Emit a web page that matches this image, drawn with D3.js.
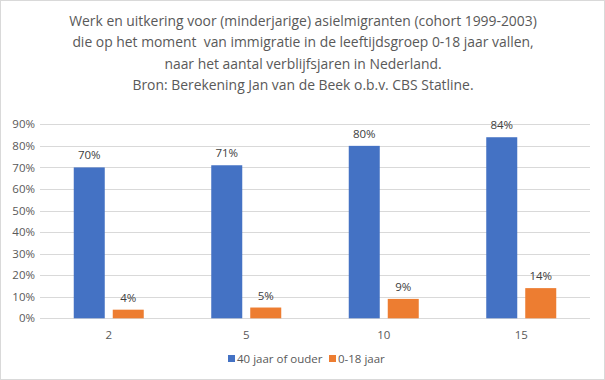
<!DOCTYPE html>
<html><head><meta charset="utf-8">
<script src="https://cdn.jsdelivr.net/npm/d3@7"></script>
<style>body{margin:0;background:#fff}svg{display:block}text{font-family:"Open Sans","Noto Sans",sans-serif}</style>
</head><body><svg id="c" width="605" height="380"></svg>
<script>
const categories = ["2","5","10","15"];
const seriesNames = ["40 jaar of ouder","0-18 jaar"];
const seriesOld = [0.70,0.71,0.80,0.84];
const seriesYoung = [0.04,0.05,0.09,0.14];
const yTicks = [0,0.1,0.2,0.3,0.4,0.5,0.6,0.7,0.8,0.9];
const titleLines = ["Werk en uitkering voor (minderjarige) asielmigranten (cohort 1999-2003)",
"die op het moment  van immigratie in de leeftijdsgroep 0-18 jaar vallen,",
"naar het aantal verblijfsjaren in Nederland.",
"Bron: Berekening Jan van de Beek o.b.v. CBS Statline."];
const colors = ["#4472C4","#ED7D31"];

const svg = d3.select("#c");
svg.append("rect").attr("x",0.5).attr("y",0.5).attr("width",604).attr("height",379)
  .attr("fill","#fff").attr("stroke","#d9d9d9");

const t = svg.append("text").attr("text-anchor","middle").attr("fill","#595959").attr("font-size",13.9)
  .style("white-space","pre");
titleLines.forEach((l,i)=>t.append("tspan").attr("x",303).attr("y",26+i*21.3).text(l));

const x0 = d3.scaleBand().domain(categories).range([40,590]);
const x1 = d3.scaleBand().domain(seriesNames).range([x0.bandwidth()/2-35, x0.bandwidth()/2+35]).paddingInner(0.205);
const y = d3.scaleLinear().domain([0,0.9]).range([318.3,124.3]);

svg.append("g").selectAll("line").data(yTicks).join("line")
  .attr("x1",40).attr("x2",590).attr("y1",d=>Math.round(y(d))+0.5).attr("y2",d=>Math.round(y(d))+0.5)
  .attr("stroke",(d)=>"#d9d9d9").attr("stroke-width",1);

const yAxis = svg.append("g").attr("transform","translate(35,0)")
  .call(d3.axisLeft(y).tickValues(yTicks).tickFormat(d3.format(".0%")).tickSize(0).tickPadding(0));
yAxis.select(".domain").remove();
yAxis.selectAll("text").attr("fill","#595959").attr("font-size",11.5).attr("font-family","'Open Sans',sans-serif");

const xAxis = svg.append("g").attr("transform","translate(0,318)")
  .call(d3.axisBottom(x0).tickSize(0).tickPadding(13));
xAxis.select(".domain").remove();
xAxis.selectAll("text").attr("fill","#595959").attr("font-size",11.5).attr("font-family","'Open Sans',sans-serif");

const data = categories.map((c,i)=>({c, vals:[{s:seriesNames[0],v:seriesOld[i],k:0},{s:seriesNames[1],v:seriesYoung[i],k:1}]}));
const g = svg.append("g").selectAll("g").data(data).join("g").attr("transform",d=>`translate(${x0(d.c)},0)`);
g.selectAll("rect").data(d=>d.vals).join("rect")
  .attr("x",d=>x1(d.s)).attr("width",x1.bandwidth())
  .attr("y",d=>y(d.v)).attr("height",d=>y(0)-y(d.v)).attr("fill",d=>colors[d.k]);
g.selectAll("text").data(d=>d.vals).join("text")
  .attr("x",d=>x1(d.s)+x1.bandwidth()/2).attr("y",d=>y(d.v)-8)
  .attr("text-anchor","middle").attr("fill","#404040").attr("font-size",11.5)
  .text(d=>d3.format(".0%")(d.v));

const legX = [228,329];
const lg = svg.append("g").selectAll("g").data(seriesNames).join("g")
  .attr("transform",(d,i)=>`translate(${legX[i]},355)`);
lg.append("rect").attr("width",7).attr("height",7).attr("fill",(d,i)=>colors[i]);
lg.append("text").attr("x",9).attr("y",7.5).attr("fill","#595959").attr("font-size",11.5).text(d=>d);
</script></body></html>
